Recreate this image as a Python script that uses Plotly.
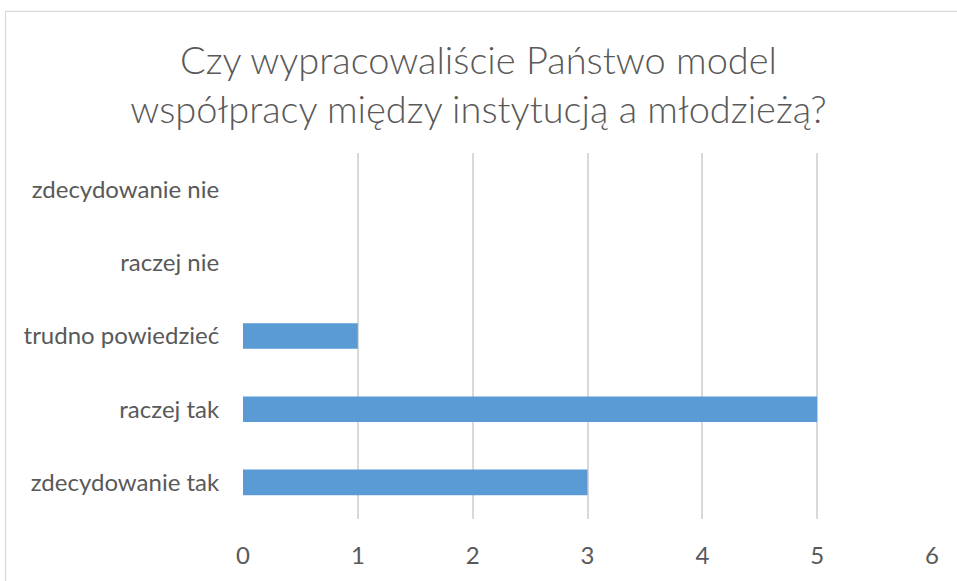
import plotly.graph_objects as go

categories = ["zdecydowanie tak", "raczej tak", "trudno powiedzieć", "raczej nie", "zdecydowanie nie"]
values = [3, 5, 1, 0, 0]
x_ticks = [0, 1, 2, 3, 4, 5, 6]
title_text = "Czy wypracowaliście Państwo model<br>współpracy między instytucją a młodzieżą?"

W, H = 957, 581
L, R, T, B = 243, 25, 153, 57
pw, ph = W - L - R, H - T - B

fig = go.Figure(go.Bar(
    y=categories, x=values, orientation="h",
    marker=dict(color="#5B9BD5", line=dict(width=0)),
    width=0.35,
))

def px_to_paper_x(px):
    return (px - L) / pw

def py_to_paper_y(py):
    return (H - B - py) / ph

fig.update_layout(
    width=W, height=H,
    margin=dict(l=L, r=R, t=T, b=B),
    paper_bgcolor="white", plot_bgcolor="white",
    font=dict(family="Lato, sans-serif", color="#595959", size=24),
    title=dict(text=title_text, x=0.5, xanchor="center", xref="container",
               y=1 - 74 / H, yanchor="middle", yref="container",
               font=dict(family="Lato Light, Lato, sans-serif", size=38, color="#595959", weight=300)),
    xaxis=dict(range=[0, 6], tickvals=x_ticks, showgrid=True, gridcolor="#D9D9D9", gridwidth=1.5,
               zeroline=False, showline=False, ticks="outside", ticklen=15, tickcolor="rgba(0,0,0,0)",
               tickfont=dict(size=24, color="#595959")),
    yaxis=dict(categoryorder="array", categoryarray=categories, showgrid=False, zeroline=False,
               showline=False, ticks="outside", ticklen=18, tickcolor="rgba(0,0,0,0)",
               tickfont=dict(size=24, color="#595959")),
    shapes=[dict(type="rect", xref="paper", yref="paper",
                 x0=px_to_paper_x(5.5), x1=px_to_paper_x(1000),
                 y0=py_to_paper_y(700), y1=py_to_paper_y(9.5),
                 line=dict(color="#D9D9D9", width=1.2), fillcolor="rgba(0,0,0,0)", layer="below")],
    showlegend=False,
)

fig.write_html("out.html", config={"displayModeBar": False},
               post_script="document.body.style.margin='0';")
